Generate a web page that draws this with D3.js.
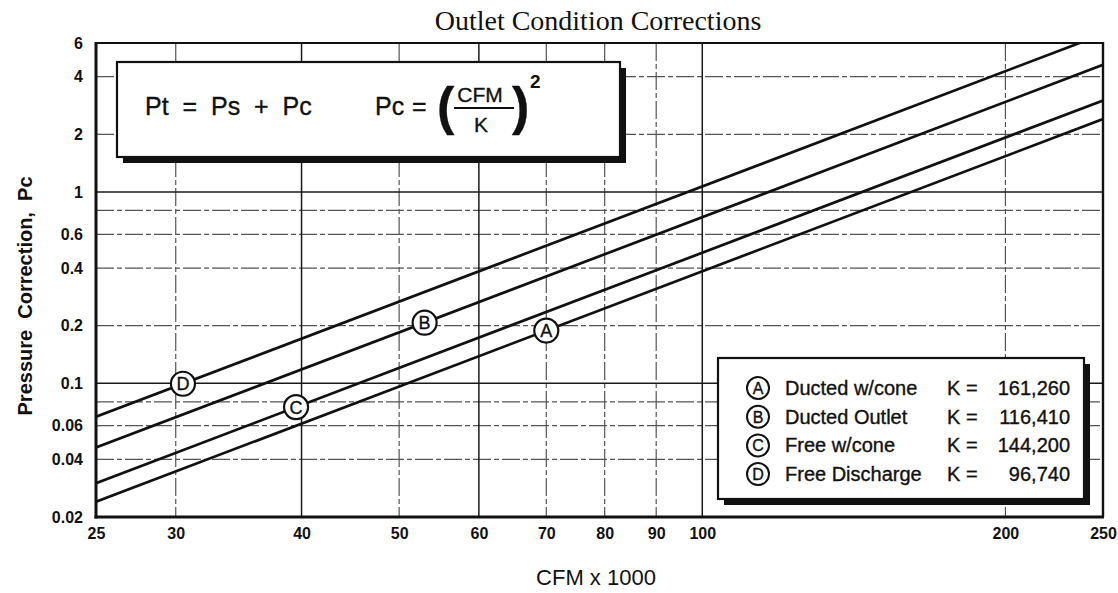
<!DOCTYPE html>
<html>
<head>
<meta charset="utf-8">
<script src="https://cdn.jsdelivr.net/npm/d3@7"></script>
<style>
  html, body { margin: 0; padding: 0; background: #fff; }
  svg { display: block; }
  text { font-family: "Liberation Sans", Arial, Helvetica, sans-serif; fill: #111; }
  .pre { white-space: pre; }
  .heavy { stroke: #111; stroke-width: 0.35px; }
</style>
</head>
<body>
<svg id="chart" width="1118" height="593"></svg>
<script>
// Curve identifiers, descriptions and K constants: Pc = (CFM / K)^2
const curveLetters = ["A", "B", "C", "D"];
const curveNames = ["Ducted w/cone", "Ducted Outlet", "Free w/cone", "Free Discharge"];
const kValues = [161260, 116410, 144200, 96740];
const kLabels = ["161,260", "116,410", "144,200", "96,740"];
// Where each curve's letter badge sits along the flow axis (CFM x 1000)
const markerCfm = [70, 53, 39.5, 30.5];

// Axis ranges, ticks and grid
const cfmRange = [25, 250];
const pcRange = [0.02, 6];
const xTicks = [25, 30, 40, 50, 60, 70, 80, 90, 100, 200, 250];
const yTicks = [0.02, 0.04, 0.06, 0.1, 0.2, 0.4, 0.6, 1, 2, 4, 6];
const xGridMajor = [40, 60, 100];
const xGridMinor = [30, 50, 70, 80, 90, 200];
const yGridMajor = [0.1, 1];
const yGridMinor = [0.04, 0.06, 0.08, 0.2, 0.4, 0.6, 0.8, 2, 4];

const svg = d3.select("#chart");
const plot = { left: 96, right: 1103, top: 43, bottom: 517 };

const x = d3.scaleLog().domain(cfmRange).range([plot.left, plot.right]);
const y = d3.scaleLog().domain(pcRange).range([plot.bottom, plot.top]);

const pc = (cfmThousands, k) => Math.pow(cfmThousands * 1000 / k, 2);

svg.append("defs").append("clipPath").attr("id", "plotClip")
  .append("rect")
  .attr("x", plot.left).attr("y", plot.top)
  .attr("width", plot.right - plot.left).attr("height", plot.bottom - plot.top);

// Title
svg.append("text")
  .attr("x", 598).attr("y", 30)
  .attr("text-anchor", "middle")
  .style("font-family", "'Liberation Serif', 'Times New Roman', serif")
  .style("font-size", "28px")
  .text("Outlet Condition Corrections");

// Grid
const grid = svg.append("g");
grid.selectAll("line.vmin").data(xGridMinor).join("line")
  .attr("x1", d => x(d)).attr("x2", d => x(d))
  .attr("y1", plot.top).attr("y2", plot.bottom)
  .attr("stroke", "#555").attr("stroke-width", 1.2)
  .attr("stroke-dasharray", "18,3,5,3");
grid.selectAll("line.hmin").data(yGridMinor).join("line")
  .attr("x1", plot.left).attr("x2", plot.right)
  .attr("y1", d => y(d)).attr("y2", d => y(d))
  .attr("stroke", "#555").attr("stroke-width", 1.2)
  .attr("stroke-dasharray", "18,3,5,3");
grid.selectAll("line.vmaj").data(xGridMajor).join("line")
  .attr("x1", d => x(d)).attr("x2", d => x(d))
  .attr("y1", plot.top).attr("y2", plot.bottom)
  .attr("stroke", "#1a1a1a").attr("stroke-width", 1.5);
grid.selectAll("line.hmaj").data(yGridMajor).join("line")
  .attr("x1", plot.left).attr("x2", plot.right)
  .attr("y1", d => y(d)).attr("y2", d => y(d))
  .attr("stroke", "#1a1a1a").attr("stroke-width", 1.5);

// Curves
const line = d3.line().x(d => x(d[0])).y(d => y(d[1]));
svg.append("g").attr("clip-path", "url(#plotClip)")
  .selectAll("path").data(kValues).join("path")
  .attr("d", k => line(cfmRange.map(c => [c, pc(c, k)])))
  .attr("fill", "none").attr("stroke", "#111").attr("stroke-width", 2.7);

// Frame
const frame = svg.append("g").attr("stroke", "#111").attr("fill", "none");
frame.append("line").attr("x1", plot.left).attr("x2", plot.right).attr("y1", plot.top).attr("y2", plot.top).attr("stroke-width", 2);
frame.append("line").attr("x1", plot.right).attr("x2", plot.right).attr("y1", plot.top - 1).attr("y2", plot.bottom).attr("stroke-width", 2.4);
frame.append("line").attr("x1", plot.left).attr("x2", plot.left).attr("y1", plot.top - 1).attr("y2", plot.bottom + 1.5).attr("stroke-width", 3);
frame.append("line").attr("x1", plot.left - 1.5).attr("x2", plot.right + 1).attr("y1", plot.bottom).attr("y2", plot.bottom).attr("stroke-width", 3);

// Letter badges on curves
const badges = svg.append("g").selectAll("g").data(curveLetters).join("g")
  .attr("transform", (d, i) => `translate(${x(markerCfm[i])},${y(pc(markerCfm[i], kValues[i]))})`);
badges.append("circle").attr("r", 12).attr("fill", "#fff").attr("stroke", "#111").attr("stroke-width", 2.2);
badges.append("text").attr("class", "heavy").attr("text-anchor", "middle").attr("y", 6.5)
  .style("font-size", "18px").text(d => d);

// Axes
const xAxis = svg.append("g").attr("transform", `translate(0,${plot.bottom})`)
  .call(d3.axisBottom(x).tickValues(xTicks).tickFormat(d3.format("d")).tickSize(0).tickPadding(11));
xAxis.select(".domain").remove();
xAxis.selectAll("text").style("font-size", "16px").style("font-weight", "bold").attr("fill", "#111")
  .style("font-family", "'Liberation Sans', Arial, sans-serif");

const yAxis = svg.append("g").attr("transform", `translate(${plot.left},0)`)
  .call(d3.axisLeft(y).tickValues(yTicks).tickFormat(d => String(d)).tickSize(0).tickPadding(13));
yAxis.select(".domain").remove();
yAxis.selectAll("text").style("font-size", "16px").style("font-weight", "bold").attr("fill", "#111")
  .style("font-family", "'Liberation Sans', Arial, sans-serif");

// Axis titles
svg.append("text")
  .attr("x", 596).attr("y", 585)
  .attr("text-anchor", "middle")
  .style("font-size", "22px")
  .text("CFM x 1000");

svg.append("text")
  .attr("class", "pre")
  .attr("transform", "translate(32,296) rotate(-90)")
  .attr("text-anchor", "middle")
  .style("font-size", "20px").style("font-weight", "bold")
  .text("Pressure  Correction,  Pc");

// Formula box
const fb = { x: 117, y: 62, w: 503, h: 95 };
svg.append("rect").attr("x", fb.x + 6).attr("y", fb.y + 6).attr("width", fb.w).attr("height", fb.h).attr("fill", "#111");
svg.append("rect").attr("x", fb.x).attr("y", fb.y).attr("width", fb.w).attr("height", fb.h)
  .attr("fill", "#fff").attr("stroke", "#111").attr("stroke-width", 2.2);
svg.append("text").attr("class", "pre heavy").attr("x", 145).attr("y", 115).style("font-size", "25px").text("Pt  =  Ps  +  Pc");
svg.append("text").attr("class", "heavy").attr("x", 375).attr("y", 115).style("font-size", "25px").text("Pc");
svg.append("text").attr("class", "heavy").attr("x", 412).attr("y", 115).style("font-size", "25px").text("=");
svg.append("text").attr("class", "heavy").attr("x", 437).attr("y", 124).style("font-size", "52px").style("font-weight", "bold").text("(");
svg.append("text").attr("class", "heavy").attr("x", 480).attr("y", 102).attr("text-anchor", "middle").style("font-size", "21px").text("CFM");
svg.append("line").attr("x1", 454).attr("x2", 514).attr("y1", 108).attr("y2", 108).attr("stroke", "#111").attr("stroke-width", 2);
svg.append("text").attr("class", "heavy").attr("x", 481).attr("y", 132).attr("text-anchor", "middle").style("font-size", "21px").text("K");
svg.append("text").attr("class", "heavy").attr("x", 512).attr("y", 124).style("font-size", "52px").style("font-weight", "bold").text(")");
svg.append("text").attr("x", 530).attr("y", 88).style("font-size", "19px").style("font-weight", "bold").text("2");

// Legend box
const lb = { x: 718, y: 358, w: 366, h: 141 };
svg.append("rect").attr("x", lb.x + 6).attr("y", lb.y + 6).attr("width", lb.w).attr("height", lb.h).attr("fill", "#111");
svg.append("rect").attr("x", lb.x).attr("y", lb.y).attr("width", lb.w).attr("height", lb.h)
  .attr("fill", "#fff").attr("stroke", "#111").attr("stroke-width", 2.2);
const rows = svg.append("g").selectAll("g").data(curveLetters).join("g")
  .attr("transform", (d, i) => `translate(0,${388 + i * 28.7})`);
rows.append("circle").attr("cx", 758).attr("r", 11).attr("fill", "#fff").attr("stroke", "#111").attr("stroke-width", 2);
rows.append("text").attr("class", "heavy").attr("x", 758).attr("y", 6).attr("text-anchor", "middle").style("font-size", "16px").text(d => d);
rows.append("text").attr("class", "heavy").attr("x", 785).attr("y", 7).style("font-size", "20px").text((d, i) => curveNames[i]);
rows.append("text").attr("class", "pre heavy").attr("x", 947).attr("y", 7).style("font-size", "20px").text("K =");
rows.append("text").attr("class", "heavy").attr("x", 1070).attr("y", 7).attr("text-anchor", "end").style("font-size", "20px").text((d, i) => kLabels[i]);
</script>
</body>
</html>
